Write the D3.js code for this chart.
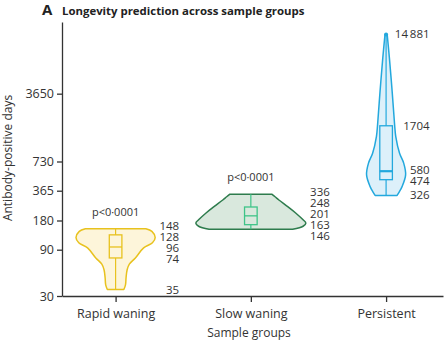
<!DOCTYPE html>
<html lang="en">
<head>
<meta charset="UTF-8">
<title>Longevity prediction across sample groups</title>
<style>
    body { margin: 0; background: #fff; }
    svg { display: block; font-family: "Open Sans", sans-serif; }
</style>
</head>
<body>
<div id="chart"></div>
<script src="https://d3js.org/d3.v7.min.js"></script>
<script>
    // groups and summary values (days)
    const groups = ['Rapid waning', 'Slow waning', 'Persistent'];
    const minVals = [35, 146, 326];
    const q1Vals = [74, 163, 474];
    const medianVals = [96, 201, 580];
    const q3Vals = [128, 248, 1704];
    const maxVals = [148, 336, 14881];
    const pLabels = ['p<0·0001', 'p<0·0001', ''];
    const yTicks = [30, 90, 180, 365, 730, 3650];

    // violin outlines: [days, relative density]
    const rapidDensity = [[148, 0.55], [139, 0.66], [120, 0.72], [106, 0.67], [94, 0.51], [74, 0.36],
        [64, 0.25], [56, 0.21], [46, 0.19], [39, 0.18], [35, 0.15]];
    const slowDensity = [[336, 0.38], [316, 0.44], [293, 0.51], [250, 0.67], [214, 0.82], [183, 0.95],
        [169, 1.0], [157, 0.95], [146, 0.76]];
    const persistentDensity = [[14881, 0.02], [8530, 0.06], [3855, 0.11], [1744, 0.155], [1320, 0.176],
        [888, 0.245], [702, 0.32], [531, 0.355], [402, 0.29], [355, 0.24], [326, 0.2]];
    const densities = [rapidDensity, slowDensity, persistentDensity];

    const colors = [
        { line: '#e8c21e', fill: '#fdf5da', box: '#e8c21e', med: 1.3 },
        { line: '#2e7c4d', fill: '#d9e8dd', box: '#3ec488', med: 1.3 },
        { line: '#23a8dd', fill: '#ddf0fa', box: '#23a8dd', med: 2.2 }
    ];

    const width = 445, height = 350;
    const svg = d3.select('#chart').append('svg')
        .attr('width', width).attr('height', height);

    const x = d3.scalePoint().domain(groups).range([62, 443]).padding(0.4085).align(0.485);
    const y = d3.scaleLog().domain([30, 20000]).range([296, 22]);
    const w = d3.scaleLinear().domain([0, 1]).range([0, 55]);

    // title
    svg.append('text').attr('x', 42).attr('y', 15)
        .attr('font-size', 15).attr('font-weight', 700).attr('fill', '#222').text('A');
    svg.append('text').attr('x', 62).attr('y', 14.5)
        .attr('font-size', 11.4).attr('font-weight', 700).attr('fill', '#222')
        .text('Longevity prediction across sample groups');

    // axes
    const yAxis = svg.append('g').attr('transform', 'translate(62,0)')
        .call(d3.axisLeft(y).tickValues(yTicks).tickFormat(d3.format('d')).tickSize(5).tickSizeOuter(0));
    const xAxis = svg.append('g').attr('transform', 'translate(0,296)')
        .call(d3.axisBottom(x).tickSize(6).tickSizeOuter(0));
    [yAxis, xAxis].forEach(g => {
        g.selectAll('path, line').attr('stroke', '#333').attr('stroke-width', 1.3);
        g.selectAll('text').attr('font-family', '"Open Sans", sans-serif')
            .attr('font-size', 12.5).attr('fill', '#333');
    });
    xAxis.selectAll('text').attr('dy', '1.0em');

    svg.append('text').attr('transform', 'translate(12,158) rotate(-90)')
        .attr('text-anchor', 'middle').attr('font-size', 12).attr('fill', '#333')
        .text('Antibody-positive days');
    svg.append('text').attr('x', 249).attr('y', 337)
        .attr('text-anchor', 'middle').attr('font-size', 12).attr('fill', '#333')
        .text('Sample groups');

    // violins
    groups.forEach((g, i) => {
        const cx = x(g);
        const c = colors[i];
        const area = d3.area()
            .y(d => y(d[0]))
            .x0(d => cx - w(d[1]))
            .x1(d => cx + w(d[1]))
            .curve(d3.curveCatmullRom.alpha(0.5));
        const gg = svg.append('g');
        gg.append('path').datum(densities[i])
            .attr('d', d => area(d) + 'Z')
            .attr('fill', c.fill).attr('stroke', c.line)
            .attr('stroke-width', 1.5).attr('stroke-linejoin', 'round');

        // whisker
        gg.append('line').attr('x1', cx).attr('x2', cx)
            .attr('y1', y(maxVals[i])).attr('y2', y(minVals[i]))
            .attr('stroke', c.box).attr('stroke-width', 1.2);
        // box
        gg.append('rect').attr('x', cx - 6.3).attr('width', 12.6)
            .attr('y', y(q3Vals[i])).attr('height', y(q1Vals[i]) - y(q3Vals[i]))
            .attr('fill', c.fill).attr('stroke', c.box).attr('stroke-width', 1.3);
        gg.append('line').attr('x1', cx - 6.3).attr('x2', cx + 6.3)
            .attr('y1', y(medianVals[i])).attr('y2', y(medianVals[i]))
            .attr('stroke', c.box).attr('stroke-width', c.med);
        if (i === 2) {
            gg.append('circle').attr('cx', cx).attr('cy', y(maxVals[i])).attr('r', 2)
                .attr('fill', c.line);
        }

        // p value
        if (pLabels[i]) {
            gg.append('text').attr('x', cx).attr('y', y(maxVals[i]) - 13)
                .attr('text-anchor', 'middle').attr('font-size', 11).attr('fill', '#333')
                .text(pLabels[i]);
        }

        // value labels, pushed apart where they collide
        const vals = [maxVals[i], q3Vals[i], medianVals[i], q1Vals[i], minVals[i]];
        const gap = 11;
        let clusters = vals.map(v => ({ targets: [y(v)], vals: [v] }));
        let merged = true;
        while (merged) {
            merged = false;
            clusters.forEach(cl => {
                const m = d3.mean(cl.targets);
                cl.top = m - gap * (cl.targets.length - 1) / 2;
                cl.bottom = cl.top + gap * (cl.targets.length - 1);
            });
            for (let k = 0; k < clusters.length - 1; k++) {
                if (clusters[k + 1].top - clusters[k].bottom < gap) {
                    clusters[k].targets = clusters[k].targets.concat(clusters[k + 1].targets);
                    clusters[k].vals = clusters[k].vals.concat(clusters[k + 1].vals);
                    clusters.splice(k + 1, 1);
                    merged = true;
                    break;
                }
            }
        }
        const maxW = d3.max(densities[i], d => d[1]);
        const lx = cx + w(maxW) + 24;
        clusters.forEach(cl => {
            cl.vals.forEach((v, k) => {
                gg.append('text').attr('x', lx).attr('y', cl.top + k * gap)
                    .attr('dy', '0.35em').attr('text-anchor', 'end')
                    .attr('font-size', 11.5).attr('fill', '#333')
                    .text(d3.format('d')(v).replace(/(\d)(\d{3})$/, (s, a, b) => v >= 10000 ? a + '\u2009' + b : s));
            });
        });
    });
</script>
</body>
</html>
